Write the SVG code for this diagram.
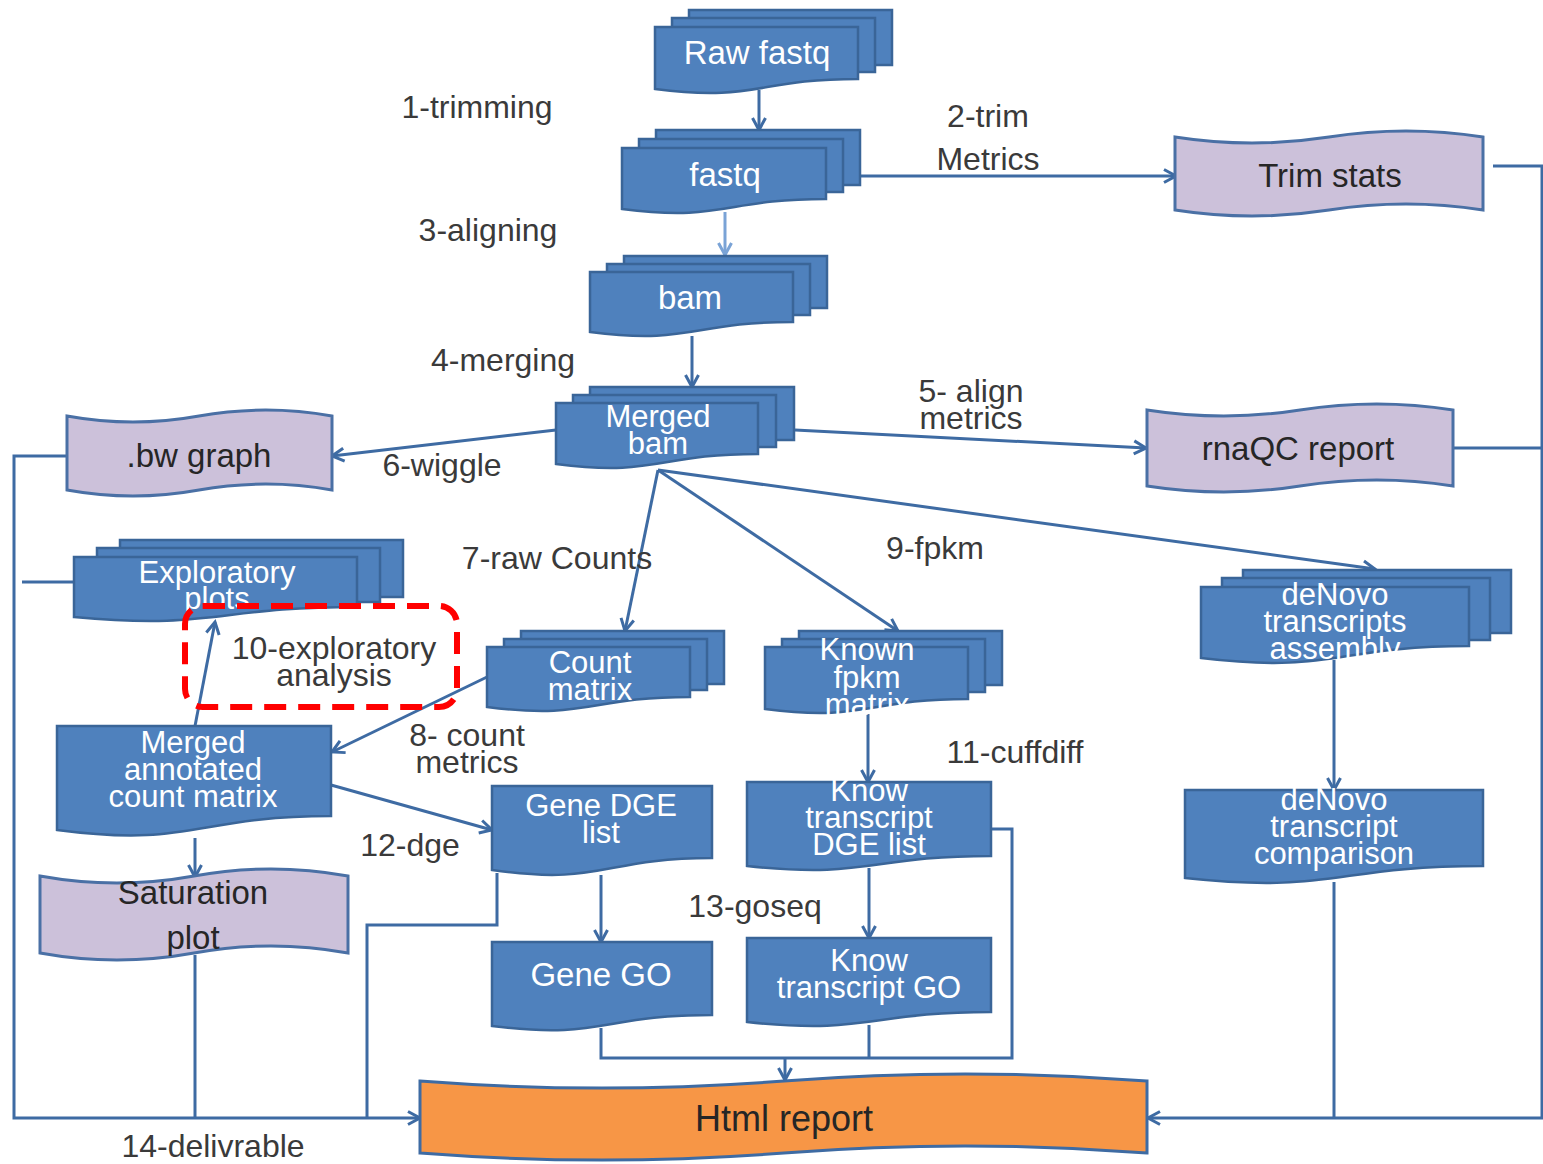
<svg xmlns="http://www.w3.org/2000/svg" width="1543" height="1164" viewBox="0 0 1543 1164">
<defs>
<marker id="arr" markerUnits="userSpaceOnUse" markerWidth="18" markerHeight="18" refX="14" refY="8" orient="auto">
<path d="M2,1.5 L14,8 L2,14.5" fill="none" stroke="#3e6ba3" stroke-width="3"/>
</marker>
<marker id="arrL" markerUnits="userSpaceOnUse" markerWidth="18" markerHeight="18" refX="14" refY="8" orient="auto">
<path d="M2,1.5 L14,8 L2,14.5" fill="none" stroke="#7aa3d6" stroke-width="3"/>
</marker>
<style>
.b{fill:#4f81bd;stroke:#3a6598;stroke-width:2.5}
.p{fill:#ccc1da;stroke:#4a70a5;stroke-width:3}
.o{fill:#f79646;stroke:#3e6ba3;stroke-width:3}
.c{fill:none;stroke:#3e6ba3;stroke-width:3}
.a{marker-end:url(#arr)}
.tw{font-family:"Liberation Sans",Arial,sans-serif;font-size:33px;fill:#ffffff;text-anchor:middle}
.tm{font-family:"Liberation Sans",Arial,sans-serif;font-size:31px;fill:#ffffff;text-anchor:middle}
.td{font-family:"Liberation Sans",Arial,sans-serif;font-size:33px;fill:#262626;text-anchor:middle}
.tl{font-family:"Liberation Sans",Arial,sans-serif;font-size:32px;fill:#3a3a3a;text-anchor:middle}
</style>
</defs>
<rect width="1543" height="1164" fill="#ffffff"/>

<g id="connectors">
<path class="c a" d="M759,90 V130"/>
<path class="c a" d="M860,176 H1176"/>
<path d="M725,212 V255" fill="none" stroke="#7aa3d6" stroke-width="3" marker-end="url(#arrL)"/>
<path class="c a" d="M692,336 V387"/>
<path class="c a" d="M795,430 L1146,448"/>
<path class="c a" d="M556,430 L332,456"/>
<path class="c a" d="M658,470 L625,631"/>
<path class="c a" d="M658,470 L898,631"/>
<path class="c a" d="M658,470 L1375,569"/>
<path class="c a" d="M868,714 V782"/>
<path class="c a" d="M487,677 L332,752"/>
<path class="c a" d="M195,726 L215,622"/>
<path class="c a" d="M331,785 L492,830"/>
<path class="c a" d="M195,838 V877"/>
<path class="c a" d="M601,875 V942"/>
<path class="c a" d="M869,868 V938"/>
<path class="c a" d="M1334,660 V790"/>
<path class="c" d="M601,1028 V1058 H1012 V829 H991"/>
<path class="c" d="M869,1025 V1058"/>
<path class="c a" d="M785,1058 V1080"/>
<path class="c a" d="M68,456 H14 V1118 H420"/>
<path class="c" d="M22,582 H74"/>
<path class="c" d="M195,955 V1118"/>
<path class="c" d="M497,873 V925 H367 V1118"/>
<path class="c a" d="M1493,166 H1542 V1118 H1148"/>
<path class="c" d="M1453,448 H1543"/>
<path class="c" d="M1334,882 V1118"/>
</g>

<g id="raw-fastq">
<rect class="b" x="689" y="10" width="203" height="55"/>
<rect class="b" x="672" y="18" width="203" height="54"/>
<path class="b" d="M655,27 H858 V79 C756.5,79 756.5,102 655,89 Z"/>
<text class="tw" x="757" y="64">Raw fastq</text>
</g>

<g id="fastq">
<rect class="b" x="656" y="130" width="204" height="55"/>
<rect class="b" x="639" y="139" width="204" height="53"/>
<path class="b" d="M622,148 H826 V199 C724,199 724,222 622,209 Z"/>
<text class="tw" x="725" y="186">fastq</text>
</g>

<g id="bam">
<rect class="b" x="624" y="256" width="203" height="52"/>
<rect class="b" x="607" y="264" width="203" height="51"/>
<path class="b" d="M590,272 H793 V322 C691.5,322 691.5,345 590,332 Z"/>
<text class="tw" x="690" y="309">bam</text>
</g>

<g id="merged-bam">
<rect class="b" x="590" y="387" width="204" height="53"/>
<rect class="b" x="573" y="395" width="203" height="52"/>
<path class="b" d="M556,403 H758 V454 C657,454 657,477 556,464 Z"/>
<text class="tm" x="658" y="427">Merged</text>
<text class="tm" x="658" y="454">bam</text>
</g>

<g id="trim-stats">
<path class="p" d="M1175,137 Q1252,149 1329,137 Q1406,125 1483,137 L1483,210 Q1406,198 1329,210 Q1252,222 1175,210 Z"/>
<text class="td" x="1330" y="187">Trim stats</text>
</g>

<g id="rnaqc-report">
<path class="p" d="M1147,410 Q1224,422 1300,410 Q1377,398 1453,410 L1453,486 Q1377,474 1300,486 Q1224,498 1147,486 Z"/>
<text class="td" x="1298" y="460">rnaQC report</text>
</g>

<g id="bw-graph">
<path class="p" d="M67,416 Q133,428 199,416 Q266,404 332,416 L332,490 Q266,478 199,490 Q133,502 67,490 Z"/>
<text class="td" x="199" y="467">.bw graph</text>
</g>

<g id="exploratory-plots">
<rect class="b" x="120" y="540" width="283" height="57"/>
<rect class="b" x="97" y="548" width="283" height="54"/>
<path class="b" d="M74,557 H357 V607 C215.5,607 215.5,630 74,617 Z"/>
<text class="tm" x="217" y="583">Exploratory</text>
<text class="tm" x="217" y="609">plots</text>
</g>

<g id="count-matrix">
<rect class="b" x="521" y="631" width="203" height="53"/>
<rect class="b" x="504" y="639" width="203" height="51"/>
<path class="b" d="M487,647 H690 V697 C588.5,697 588.5,720 487,707 Z"/>
<text class="tm" x="590" y="673">Count</text>
<text class="tm" x="590" y="700">matrix</text>
</g>

<g id="known-fpkm-matrix">
<rect class="b" x="799" y="631" width="203" height="54"/>
<rect class="b" x="782" y="639" width="203" height="53"/>
<path class="b" d="M765,647 H968 V699 C866.5,699 866.5,722 765,709 Z"/>
<text class="tm" x="867" y="660">Known</text>
<text class="tm" x="867" y="688">fpkm</text>
<text class="tm" x="867" y="715">matrix</text>
</g>

<g id="denovo-assembly">
<rect class="b" x="1243" y="570" width="268" height="63"/>
<rect class="b" x="1222" y="578" width="268" height="62"/>
<path class="b" d="M1201,587 H1469 V646 C1335,646 1335,674 1201,658 Z"/>
<text class="tm" x="1335" y="605">deNovo</text>
<text class="tm" x="1335" y="632">transcripts</text>
<text class="tm" x="1335" y="659">assembly</text>
</g>

<g id="merged-annotated">
<path class="b" d="M57,726 H331 V816 C194,816 194,848 57,830 Z"/>
<text class="tm" x="193" y="753">Merged</text>
<text class="tm" x="193" y="780">annotated</text>
<text class="tm" x="193" y="807">count matrix</text>
</g>

<g id="saturation-plot">
<path class="p" d="M40,876 Q117,890 194,876 Q271,862 348,876 L348,953 Q271,939 194,953 Q117,967 40,953 Z"/>
<text class="td" x="193" y="904">Saturation</text>
<text class="td" x="193" y="949">plot</text>
</g>

<g id="gene-dge-list">
<path class="b" d="M492,786 H712 V858 C602,858 602,886 492,870 Z"/>
<text class="tm" x="601" y="816">Gene DGE</text>
<text class="tm" x="601" y="843">list</text>
</g>

<g id="know-transcript-dge">
<path class="b" d="M747,782 H991 V856 C869,856 869,879 747,866 Z"/>
<text class="tm" x="869" y="801">Know</text>
<text class="tm" x="869" y="828">transcript</text>
<text class="tm" x="869" y="855">DGE list</text>
</g>

<g id="gene-go">
<path class="b" d="M492,942 H712 V1015 C602,1015 602,1040 492,1026 Z"/>
<text class="tw" x="601" y="986">Gene GO</text>
</g>

<g id="know-transcript-go">
<path class="b" d="M747,938 H991 V1012 C869,1012 869,1035 747,1022 Z"/>
<text class="tm" x="869" y="971">Know</text>
<text class="tm" x="869" y="998">transcript GO</text>
</g>

<g id="denovo-comparison">
<path class="b" d="M1185,790 H1483 V866 C1334,866 1334,894 1185,878 Z"/>
<text class="tm" x="1334" y="810">deNovo</text>
<text class="tm" x="1334" y="837">transcript</text>
<text class="tm" x="1334" y="864">comparison</text>
</g>

<g id="html-report">
<path class="o" d="M420,1081 Q602,1095 784,1081 Q965,1067 1147,1081 L1147,1153 Q965,1139 784,1153 Q602,1167 420,1153 Z"/>
<text class="td" x="784" y="1131" style="font-size:36px">Html report</text>
</g>

<g id="labels">
<text class="tl" x="477" y="118">1-trimming</text>
<text class="tl" x="988" y="127">2-trim</text>
<text class="tl" x="988" y="170">Metrics</text>
<text class="tl" x="488" y="241">3-aligning</text>
<text class="tl" x="503" y="371">4-merging</text>
<text class="tl" x="971" y="402">5- align</text>
<text class="tl" x="971" y="429">metrics</text>
<text class="tl" x="442" y="476">6-wiggle</text>
<text class="tl" x="557" y="569">7-raw Counts</text>
<text class="tl" x="935" y="559">9-fpkm</text>
<text class="tl" x="334" y="659">10-exploratory</text>
<text class="tl" x="334" y="686">analysis</text>
<text class="tl" x="467" y="746">8- count</text>
<text class="tl" x="467" y="773">metrics</text>
<text class="tl" x="1015" y="763">11-cuffdiff</text>
<text class="tl" x="410" y="856">12-dge</text>
<text class="tl" x="755" y="917">13-goseq</text>
<text class="tl" x="213" y="1157">14-delivrable</text>
</g>

<g id="highlight">
<rect x="185" y="606" width="272" height="101" rx="18" fill="none" stroke="#ff0000" stroke-width="6" stroke-dasharray="22 12"/>
</g>
</svg>
